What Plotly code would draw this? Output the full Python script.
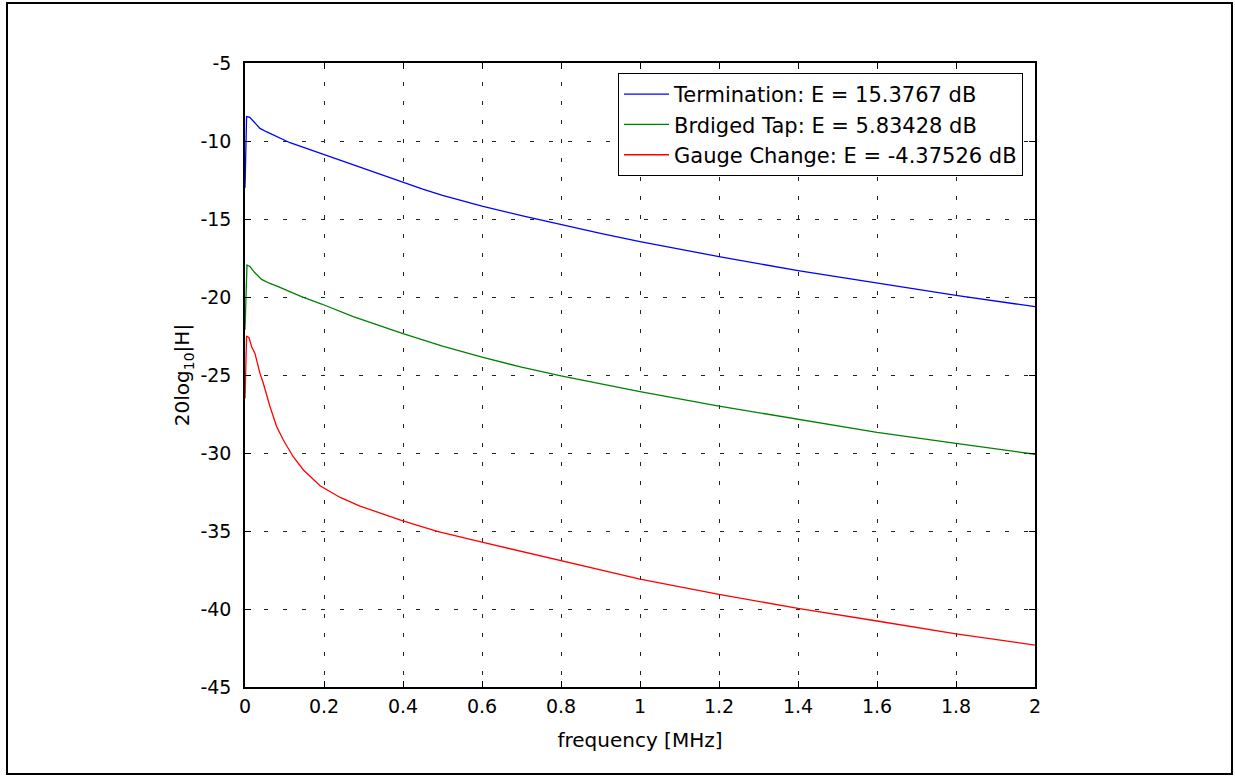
import plotly.graph_objects as go

# ---- data ----
freq_term = [0, 0.004, 0.012, 0.025, 0.038, 0.055, 0.072, 0.09, 0.114, 0.15, 0.196, 0.25, 0.3, 0.35, 0.4,
             0.45, 0.5, 0.6, 0.7, 0.8, 0.9, 1.0, 1.2, 1.4, 1.6, 1.8, 2.0]
db_term = [-13.0, -8.44, -8.48, -8.85, -9.19, -9.42, -9.62, -9.85, -10.11, -10.42, -10.83, -11.3, -11.75,
           -12.2, -12.65, -13.08, -13.48, -14.18, -14.78, -15.36, -15.92, -16.45, -17.41, -18.31, -19.12,
           -19.89, -20.62]

freq_tap = [0, 0.005, 0.013, 0.025, 0.042, 0.06, 0.084, 0.11, 0.143, 0.194, 0.274, 0.4, 0.5, 0.6, 0.7,
            0.8, 0.9, 1.0, 1.2, 1.4, 1.6, 1.8, 2.0]
db_tap = [-22.1, -17.95, -18.06, -18.45, -18.87, -19.1, -19.34, -19.62, -19.98, -20.45, -21.26, -22.35,
          -23.15, -23.85, -24.5, -25.05, -25.58, -26.07, -26.99, -27.84, -28.68, -29.38, -30.08]

freq_gauge = [0, 0.004, 0.01, 0.017, 0.025, 0.038, 0.046, 0.063, 0.08, 0.097, 0.122, 0.148, 0.19, 0.241,
              0.291, 0.342, 0.392, 0.443, 0.489, 0.6, 0.7, 0.8, 0.9, 1.0, 1.2, 1.4, 1.6, 1.8, 2.0]
db_gauge = [-26.5, -22.5, -22.6, -23.2, -23.6, -24.9, -25.5, -27.0, -28.3, -29.17, -30.24, -31.09, -32.1,
            -32.85, -33.4, -33.87, -34.29, -34.68, -35.04, -35.72, -36.32, -36.92, -37.5, -38.08, -39.06,
            -39.96, -40.77, -41.6, -42.31]

series_names = ["Termination: E = 15.3767 dB",
                "Brdiged Tap: E = 5.83428 dB",
                "Gauge Change: E = -4.37526 dB"]
series_colors = ["#0000ff", "#008000", "#ff0000"]

x_ticks = [0, 0.2, 0.4, 0.6, 0.8, 1, 1.2, 1.4, 1.6, 1.8, 2]
x_tick_text = ["0", "0.2", "0.4", "0.6", "0.8", "1", "1.2", "1.4", "1.6", "1.8", "2"]
y_ticks = [-45, -40, -35, -30, -25, -20, -15, -10, -5]
y_tick_text = ["-45", "-40", "-35", "-30", "-25", "-20", "-15", "-10", "-5"]

FONT = "DejaVu Sans, Liberation Sans, Arial, sans-serif"

fig = go.Figure()
for xs, ys, name, col in zip([freq_term, freq_tap, freq_gauge],
                             [db_term, db_tap, db_gauge],
                             series_names, series_colors):
    fig.add_trace(go.Scatter(x=xs, y=ys, mode="lines", name=name,
                             line=dict(color=col, width=1.3)))

W, H = 1235, 776
L, R, T, B = 245, 1035, 63, 687
pw, ph = R - L, B - T

axis_common = dict(
    showline=True, linecolor="black", linewidth=1.5, mirror="ticks",
    ticks="inside", ticklen=6, tickcolor="black", tickwidth=1,
    showgrid=True, gridcolor="#222222", gridwidth=1, griddash="4px,15px",
    zeroline=False,
    tickfont=dict(family=FONT, size=19, color="black"),
)

fig.update_layout(
    width=W, height=H,
    margin=dict(l=L, r=W - R, t=T, b=H - B),
    paper_bgcolor="white", plot_bgcolor="white",
    font=dict(family=FONT, size=19, color="black"),
    showlegend=True,
    legend=dict(x=(1023 - L) / pw, y=1 - (73 - T) / ph, xanchor="right", yanchor="top",
                bgcolor="white", bordercolor="black", borderwidth=1,
                font=dict(family=FONT, size=21, color="black"),
                tracegroupgap=0, itemwidth=45),
    xaxis=dict(range=[0, 2], tickvals=x_ticks, ticktext=x_tick_text,
               title=dict(text="frequency [MHz]", font=dict(family=FONT, size=20), standoff=17),
               ticklabelstandoff=1, **axis_common),
    yaxis=dict(range=[-45, -5], tickvals=y_ticks, ticktext=y_tick_text,
               title=dict(text="20log<sub>10</sub>|H|", font=dict(family=FONT, size=20), standoff=5),
               ticklabelstandoff=8, **axis_common),
)

# outer frame around the whole figure
fig.add_shape(type="rect", xref="paper", yref="paper",
              x0=(7 - L) / pw, x1=(1232 - L) / pw,
              y0=-(774 - B) / ph, y1=1 + (T - 3) / ph,
              line=dict(color="black", width=2), fillcolor="rgba(0,0,0,0)", layer="above")

fig.write_html("out.html", config={"displayModeBar": False},
               post_script="document.body.style.margin='0px';")
